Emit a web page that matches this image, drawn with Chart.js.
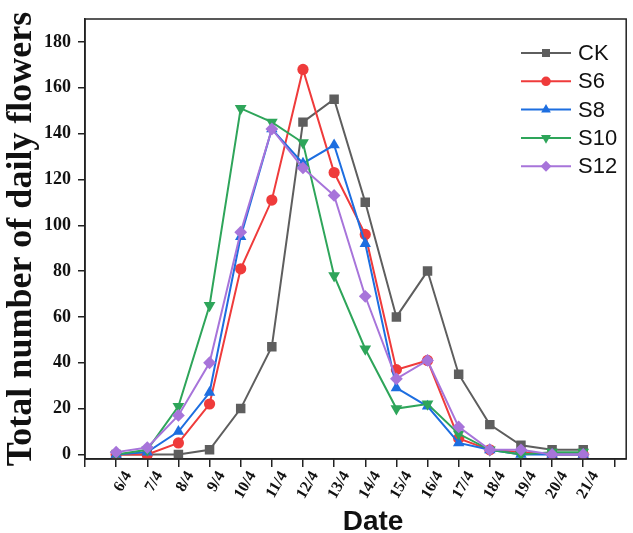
<!DOCTYPE html>
<html>
<head>
<meta charset="utf-8">
<script src="https://cdn.jsdelivr.net/npm/chart.js@4/dist/chart.umd.min.js"></script>
<style>
  body { margin: 0; background: #fff; }
  #wrap { width: 633px; height: 533px; }
</style>
</head>
<body>
<div id="wrap"><canvas id="c" width="633" height="533"></canvas></div>
<script>
// dates on the x axis
const dates = ['6/4', '7/4', '8/4', '9/4', '10/4', '11/4', '12/4', '13/4',
  '14/4', '15/4', '16/4', '17/4', '18/4', '19/4', '20/4', '21/4'];

// daily flower counts
const ck  = [0, 0, 0, 2, 20, 47, 145, 155, 110, 60, 80, 35, 13, 4, 2, 2];
const s6  = [0, 0, 5, 22, 81, 111, 168, 123, 96, 37, 41, 7, 2, 1, 0, 0];
const s8  = [0, 1, 10, 27, 95, 142, 127, 135, 92, 29, 21, 5, 2, 0, 0, 0];
const s10 = [0, 2, 21, 65, 151, 145, 136, 78, 46, 20, 22, 9, 2, 0, 1, 1];
const s12 = [1, 3, 17, 40, 97, 142, 125, 113, 69, 33, 41, 12, 2, 2, 0, 0];

const seriesNames = ['CK', 'S6', 'S8', 'S10', 'S12'];
const seriesData = [ck, s6, s8, s10, s12];

const colors = ['#5e5e5e', '#ef3b3b', '#1d6ee0', '#2ea55a', '#a774da'];
const shapes = ['rect', 'circle', 'triangle', 'triangle', 'rectRot'];
const rotations = [0, 0, 0, 180, 0];
const radii = [6.7, 5.6, 6.6, 6.8, 6.4];

const datasets = seriesNames.map((name, i) => ({
  label: name,
  data: seriesData[i].map((v, j) => ({ x: j, y: v })),
  borderColor: colors[i],
  backgroundColor: colors[i],
  borderWidth: 2,
  pointStyle: shapes[i],
  rotation: rotations[i],
  pointRadius: radii[i],
  pointBorderWidth: 0,
  order: seriesNames.length - 1 - i,
  tension: 0
}));

// box around plot, x title and legend with line and marker
const frame = {
  id: 'frame',
  afterDraw(chart) {
    const ctx = chart.ctx;
    const a = chart.chartArea;
    ctx.save();
    ctx.strokeStyle = '#222';
    ctx.lineWidth = 1.5;
    ctx.strokeRect(a.left, a.top, a.right - a.left, a.bottom - a.top);

    ctx.fillStyle = '#111';
    ctx.font = 'bold 28px "Liberation Sans", Arial, sans-serif';
    ctx.textAlign = 'center';
    ctx.textBaseline = 'middle';
    ctx.fillText('Date', 373, 522);

    const x0 = 521, x1 = 571, tx = 578;
    ctx.textAlign = 'left';
    ctx.font = '22px "Liberation Sans", Arial, sans-serif';
    seriesNames.forEach((name, i) => {
      const y = 53 + i * 28.3;
      ctx.strokeStyle = colors[i];
      ctx.lineWidth = 2;
      ctx.beginPath();
      ctx.moveTo(x0, y);
      ctx.lineTo(x1, y);
      ctx.stroke();
      ctx.fillStyle = colors[i];
      Chart.helpers.drawPoint(ctx, {
        pointStyle: shapes[i], rotation: rotations[i],
        radius: radii[i] * 0.85, borderWidth: 0
      }, (x0 + x1) / 2, y);
      ctx.fillStyle = '#111';
      ctx.fillText(name, tx, y + 1);
    });
    ctx.restore();
  }
};

new Chart(document.getElementById('c'), {
  type: 'line',
  data: { datasets },
  options: {
    responsive: false,
    animation: false,
    layout: { padding: { top: 19, right: 3, left: 0, bottom: 0 } },
    plugins: { legend: { display: false }, tooltip: { enabled: false } },
    scales: {
      x: {
        type: 'linear',
        min: -1,
        max: 16.38,
        afterFit: s => { s.height = 74; },
        border: { display: true, color: '#222', width: 1.5 },
        grid: { drawOnChartArea: false, drawTicks: true, tickLength: 8, color: '#222', lineWidth: 1.5 },
        ticks: {
          stepSize: 1,
          includeBounds: false,
          autoSkip: false,
          minRotation: 60,
          maxRotation: 60,
          padding: 1,
          labelOffset: 12,
          color: '#111',
          font: { family: '"Liberation Serif", "Times New Roman", serif', weight: 'bold', size: 16 },
          callback: v => dates[v] !== undefined ? dates[v] : ''
        }
      },
      y: {
        min: -2,
        max: 190,
        afterFit: s => { s.width = 85; },
        border: { display: true, color: '#222', width: 1.5 },
        grid: { drawOnChartArea: false, drawTicks: true, tickLength: 7, color: '#222', lineWidth: 1.5 },
        ticks: {
          stepSize: 20,
          includeBounds: false,
          padding: 7,
          color: '#111',
          font: { family: '"Liberation Serif", "Times New Roman", serif', weight: 'bold', size: 18 }
        },
        title: {
          display: true,
          text: 'Total number of daily flowers',
          color: '#111',
          padding: { top: 0, bottom: 0 },
          font: { family: '"Liberation Serif", "Times New Roman", serif', weight: 'bold', size: 36 }
        }
      }
    }
  },
  plugins: [frame]
});
</script>
</body>
</html>
